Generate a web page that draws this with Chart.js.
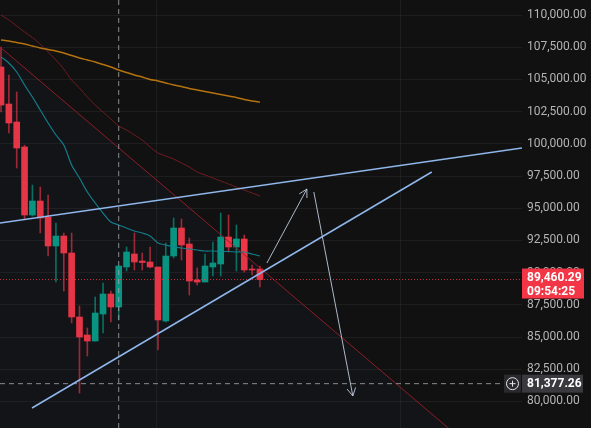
<!DOCTYPE html>
<html>
<head>
<meta charset="utf-8">
<script src="https://cdn.jsdelivr.net/npm/chart.js@4.4.1/dist/chart.umd.min.js"></script>
<style>
    html, body { margin: 0; padding: 0; background: #111111; }
    #wrap { width: 591px; height: 428px; }
</style>
</head>
<body>
<div id="wrap"><canvas id="chart" width="591" height="428"></canvas></div>
<script>
// Mumlar (gunluk), soldan saga
var openP  = [105963, 103090, 101693, 99752, 94472, 95559, 94317, 92066, 92842, 91522, 86553, 85155, 84689, 86786, 88338, 87329, 90435, 91444, 90901, 90823, 90435, 86242, 91289, 93463, 92220, 89425, 89270, 90435, 90668, 92764, 91988, 92609, 90279, 90279];
var highP  = [107516, 105342, 104022, 99900, 96801, 96646, 96025, 93851, 93074, 93074, 87407, 85699, 88106, 89192, 88571, 90512, 91988, 93074, 91522, 91988, 90435, 92298, 94239, 94161, 92686, 90357, 91444, 92376, 94627, 94472, 93696, 92919, 90590, 90512];
var lowP   = [102469, 100838, 98121, 94161, 94394, 93074, 91289, 89270, 88571, 86087, 80652, 83525, 84689, 85310, 86165, 86320, 90124, 90202, 90202, 90357, 83991, 86165, 91133, 90978, 88261, 89037, 89270, 89736, 89736, 91599, 90124, 90047, 89814, 88882];
var closeP = [103012, 101615, 99674, 94472, 95559, 94239, 92066, 92842, 91522, 86553, 85000, 84689, 86863, 88338, 87329, 90512, 91599, 90823, 90784, 90435, 86320, 91289, 93463, 92143, 89348, 89270, 90512, 90745, 92764, 91988, 92609, 90202, 90202, 89460.29];

// Hareketli ortalamalar
var maFast = [106739, 106273, 105575, 104565, 103634, 102624, 101615, 100683, 99907, 98354, 97345, 96258, 95404, 94627, 93929, 93696, 93463, 93230, 93074, 92842, 92298, 92143, 91988, 91910, 91832, 91755, 91677, 91677, 91638, 91638, 91599, 91599, 91444, 91289];
var maMid  = [110000, 109612, 109146, 108680, 108253, 107748, 107127, 106506, 105807, 104953, 104332, 103634, 103012, 102469, 101925, 101382, 101071, 100683, 100295, 99752, 99286, 99053, 98820, 98509, 98199, 97810, 97578, 97345, 97112, 96879, 96646, 96413, 96180, 95947];
var maSlow = [108059, 107981, 107865, 107748, 107593, 107438, 107321, 107205, 107050, 106856, 106661, 106506, 106351, 106157, 105963, 105730, 105536, 105342, 105186, 104992, 104876, 104720, 104565, 104449, 104294, 104177, 104061, 103944, 103828, 103711, 103595, 103440, 103323, 103245];

// Cizimler: [mum indeksi, fiyat]
var resistLine = [[-0.13, 93851], [66.4, 99674]];
var supportLine = [[3.95, 79487], [54.9, 97811]];
var redTrend = [[-0.13, 107516], [60, 76382]];
var arrowUp = [[33.89, 90745], [38.98, 96491]];
var arrowDown = [[39.87, 96258], [44.84, 80419]];

var yTicks = [80000, 82500, 85000, 87500, 90000, 92500, 95000, 97500, 100000, 102500, 105000, 107500, 110000];
var timeGrid = [19.87, 50.96];
var lastPrice = 89460.29;
var lastTimer = '09:54:25';
var crossPrice = 81377.26;
var crossIndex = 15;

var X_MIN = -0.13, X_MAX = 66.4, Y_MIN = 77935, Y_MAX = 111165;

var UP = '#089981', DOWN = '#f23645';
var UP_WICK = 'rgba(8,153,129,0.7)', DOWN_WICK = 'rgba(242,54,69,0.65)';

function pts(arr) {
    return arr.map(function(p) { return { x: p[0], y: p[1] }; });
}
function series(arr) {
    return arr.map(function(v, i) { return { x: i, y: v }; });
}
function fmt(v) {
    return v.toLocaleString('en-US', { minimumFractionDigits: 2, maximumFractionDigits: 2 });
}

var isUp = openP.map(function(o, i) { return closeP[i] >= o; });

var overlay = {
    id: 'overlay',
    beforeDraw: function(chart) {
        var ctx = chart.ctx;
        ctx.save();
        ctx.fillStyle = '#111111';
        ctx.fillRect(0, 0, chart.width, chart.height);
        ctx.restore();
    },
    afterDatasetsDraw: function(chart) {
        var ctx = chart.ctx, xs = chart.scales.x, ys = chart.scales.y;
        ctx.save();
        ctx.strokeStyle = 'rgba(190,202,220,0.9)';
        ctx.lineWidth = 1;
        [arrowUp, arrowDown].forEach(function(a) {
            var x0 = xs.getPixelForValue(a[0][0]), y0 = ys.getPixelForValue(a[0][1]);
            var x1 = xs.getPixelForValue(a[1][0]), y1 = ys.getPixelForValue(a[1][1]);
            var ang = Math.atan2(y1 - y0, x1 - x0);
            ctx.beginPath();
            ctx.moveTo(x1 - 9 * Math.cos(ang - 0.5), y1 - 9 * Math.sin(ang - 0.5));
            ctx.lineTo(x1, y1);
            ctx.lineTo(x1 - 9 * Math.cos(ang + 0.5), y1 - 9 * Math.sin(ang + 0.5));
            ctx.stroke();
        });
        ctx.restore();
    },
    afterDraw: function(chart) {
        var ctx = chart.ctx, ys = chart.scales.y;
        var left = chart.chartArea.right;
        ctx.save();

        // son fiyat etiketi
        var py = ys.getPixelForValue(lastPrice);
        ctx.fillStyle = DOWN;
        ctx.fillRect(left, py - 11, 62, 30);
        ctx.fillStyle = '#ffffff';
        ctx.font = 'bold 12px Roboto';
        ctx.textBaseline = 'middle';
        ctx.textAlign = 'left';
        ctx.fillText(fmt(lastPrice), left + 5, py - 2);
        ctx.fillText(lastTimer, left + 5, py + 12);

        // crosshair fiyat etiketi
        var cy = ys.getPixelForValue(crossPrice);
        ctx.fillStyle = '#3a3a3e';
        ctx.fillRect(left, cy - 9, 61, 18);
        ctx.fillStyle = '#2a2a2e';
        ctx.fillRect(left - 18, cy - 9, 17, 18);
        ctx.fillStyle = '#ffffff';
        ctx.fillText(fmt(crossPrice), left + 5, cy + 0.5);
        var cx = left - 9.5;
        ctx.strokeStyle = '#e6e6e6';
        ctx.lineWidth = 1;
        ctx.beginPath();
        ctx.arc(cx, cy, 6, 0, Math.PI * 2);
        ctx.moveTo(cx - 3, cy);
        ctx.lineTo(cx + 3, cy);
        ctx.moveTo(cx, cy - 3);
        ctx.lineTo(cx, cy + 3);
        ctx.stroke();
        ctx.restore();
    }
};

var chart = new Chart(document.getElementById('chart'), {
    type: 'bar',
    data: {
        datasets: [
            {
                label: 'wick',
                data: highP.map(function(h, i) { return { x: i, y: [lowP[i], h] }; }),
                backgroundColor: isUp.map(function(u) { return u ? UP_WICK : DOWN_WICK; }),
                barThickness: 1,
                grouped: false,
                order: 10
            },
            {
                label: 'body',
                data: openP.map(function(o, i) { return { x: i, y: [o, closeP[i]] }; }),
                backgroundColor: isUp.map(function(u) { return u ? UP : DOWN; }),
                barThickness: 6,
                minBarLength: 1,
                grouped: false,
                order: 9
            },
            {
                type: 'line', label: 'MA slow', data: series(maSlow),
                borderColor: '#b5720e', borderWidth: 1.5, pointRadius: 0, tension: 0.3, order: 5
            },
            {
                type: 'line', label: 'MA mid', data: series(maMid),
                borderColor: 'rgba(120,28,36,0.9)', borderWidth: 1, pointRadius: 0, tension: 0.3, order: 5
            },
            {
                type: 'line', label: 'MA fast', data: series(maFast),
                borderColor: 'rgba(18,135,145,0.95)', borderWidth: 1.2, pointRadius: 0, tension: 0.3, order: 5
            },
            {
                type: 'line', label: 'red trend', data: pts(redTrend),
                borderColor: 'rgba(150,30,42,0.95)', borderWidth: 1, pointRadius: 0,
                fill: 'start', backgroundColor: 'rgba(40,60,130,0.06)', order: 4
            },
            {
                type: 'line', label: 'resistance', data: pts(resistLine),
                borderColor: '#8fb7ec', borderWidth: 1.5, pointRadius: 0, order: 2
            },
            {
                type: 'line', label: 'support', data: pts(supportLine),
                borderColor: '#8fb7ec', borderWidth: 1.5, pointRadius: 0, order: 2
            },
            {
                type: 'line', label: 'arrow up', data: pts(arrowUp),
                borderColor: 'rgba(190,202,220,0.9)', borderWidth: 1, pointRadius: 0, order: 2
            },
            {
                type: 'line', label: 'arrow down', data: pts(arrowDown),
                borderColor: 'rgba(190,202,220,0.9)', borderWidth: 1, pointRadius: 0, order: 2
            },
            {
                type: 'line', label: 'last price', data: [{ x: X_MIN, y: lastPrice }, { x: X_MAX, y: lastPrice }],
                borderColor: 'rgba(242,54,69,0.85)', borderWidth: 1, borderDash: [1, 2], pointRadius: 0, order: 3
            },
            {
                type: 'line', label: 'cross h', data: [{ x: X_MIN, y: crossPrice }, { x: 63.9, y: crossPrice }],
                borderColor: 'rgba(170,170,175,0.8)', borderWidth: 1, borderDash: [5, 4], pointRadius: 0, order: 3
            },
            {
                type: 'line', label: 'cross v', data: [{ x: crossIndex, y: Y_MIN }, { x: crossIndex, y: Y_MAX }],
                borderColor: 'rgba(170,170,175,0.8)', borderWidth: 1, borderDash: [5, 4], pointRadius: 0, order: 3
            }
        ]
    },
    options: {
        responsive: false,
        animation: false,
        layout: { padding: 0 },
        plugins: {
            legend: { display: false },
            tooltip: { enabled: false }
        },
        scales: {
            x: {
                type: 'linear',
                min: X_MIN,
                max: X_MAX,
                offset: false,
                afterBuildTicks: function(axis) {
                    axis.ticks = timeGrid.map(function(v) { return { value: v }; });
                },
                afterFit: function(axis) {
                    axis.height = 0;
                    axis.paddingLeft = 0;
                    axis.paddingRight = 0;
                    axis.paddingTop = 0;
                    axis.paddingBottom = 0;
                },
                ticks: { display: false },
                grid: { color: 'rgba(255,255,255,0.055)', drawTicks: false, offset: false },
                border: { display: false }
            },
            y: {
                position: 'right',
                min: Y_MIN,
                max: Y_MAX,
                beginAtZero: false,
                afterBuildTicks: function(axis) {
                    axis.ticks = yTicks.map(function(v) { return { value: v }; });
                },
                afterFit: function(axis) {
                    axis.width = 69;
                    axis.paddingTop = 0;
                    axis.paddingBottom = 0;
                },
                ticks: {
                    color: '#b4b4b4',
                    font: { family: 'Roboto', size: 12 },
                    padding: 5,
                    callback: function(v) { return fmt(v); }
                },
                grid: { color: 'rgba(255,255,255,0.055)', drawTicks: false },
                border: { display: false }
            }
        }
    },
    plugins: [overlay]
});
</script>
</body>
</html>
